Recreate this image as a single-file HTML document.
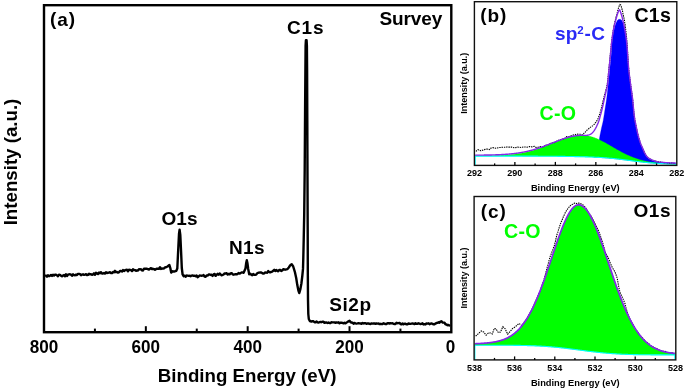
<!DOCTYPE html>
<html><head><meta charset="utf-8"><style>
html,body{margin:0;padding:0;background:#fff;}
svg{display:block;will-change:transform;}
text{font-family:"Liberation Sans",sans-serif;font-weight:bold;fill:#000;}
</style></head><body>
<svg width="685" height="389" viewBox="0 0 685 389">
<rect x="0" y="0" width="685" height="389" fill="#fff"/>
<!-- Panel (a) -->
<path d="M45 276.11 L46 275.64 L47 276.65 L48 275.29 L49 276.22 L50 275.75 L51 274.99 L52 275.89 L53 274.76 L54 275.54 L55 274.65 L56 274.67 L57 275.37 L58 276.22 L59 274.64 L60 274.83 L61 275.69 L62 276.36 L63 275.51 L64 275.08 L65 276.33 L66 274.25 L67 276 L68 274.72 L69 274.37 L70 274.28 L71 274.66 L72 275.75 L73 274.32 L74 275.17 L75 275.26 L76 274.64 L77 275 L78 273.9 L79 273.86 L80 274.15 L81 275.16 L82 274.57 L83 274.29 L84 274.85 L85 274.53 L86 274.16 L87 275.15 L88 274.85 L89 273.75 L90 274.38 L91 274.18 L92 274.85 L93 274.44 L94 273.37 L95 274.8 L96 272.8 L97 273.37 L98 274.02 L99 272.59 L100 273.24 L101 272.15 L102 273.44 L103 273.56 L104 273.04 L105 273.61 L106 272.28 L107 273.02 L108 272.7 L109 272.58 L110 272.21 L111 272.96 L112 273.1 L113 271.97 L114 272.29 L115 270.87 L116 272.19 L117 271.98 L118 272.64 L119 272.17 L120 270.9 L121 271.03 L122 271.56 L123 270.04 L124 270.92 L125 270.18 L126 269.97 L127 269.75 L128 271.22 L129 269.72 L130 269.88 L131 270.11 L132 271.07 L133 269.24 L134 269.95 L135 270.08 L136 270.72 L137 270.49 L138 270.49 L139 269.11 L140 269.38 L141 269.23 L142 270.35 L143 270.48 L144 268.68 L145 268.7 L146 268.79 L147 268.77 L148 269.29 L149 269.49 L150 268.74 L151 268.14 L152 269.02 L153 268.79 L154 269.09 L155 269.82 L156 269.12 L157 268.6 L158 268.7 L159 268.71 L160 267.21 L161 268.95 L162 268.56 L163 268.64 L164 268.34 L165 267.33 L166 267.22 L167.5 266.5 L169.4 265 L170.3 268 L171.2 272.6 L172.5 271.2 L174 271.6 L176.3 270.8 L177.3 268.5 L178.2 250 L179 234 L179.6 229.6 L180.3 235 L181.1 252 L181.8 268 L182.6 274.5 L183.6 276.2 L184.6 275.64 L185.6 276.81 L186.6 275.56 L187.6 275.58 L188.6 275.9 L189.6 275.81 L190.6 276.21 L191.6 275.59 L192.6 275.48 L193.6 275.82 L194.6 275.72 L195.6 276.25 L196.6 275.42 L197.6 277.21 L198.6 276.55 L199.6 275.44 L200.6 275.59 L201.6 275.71 L202.6 275.67 L203.6 275.05 L204.6 276.57 L205.6 276.8 L206.6 275.56 L207.6 275.51 L208.6 274.56 L209.6 274.51 L210.6 274.95 L211.6 274.7 L212.6 275.86 L213.6 274.3 L214.6 273.89 L215.6 275.83 L216.6 274.8 L217.6 273.86 L218.6 274.63 L219.6 273.4 L220.6 274.4 L221.6 275.29 L222.6 274.94 L223.6 274.47 L224.6 273.41 L225.6 273.59 L226.6 273.12 L227.6 274.43 L228.6 273.87 L229.6 274.39 L230.6 273.37 L231.6 273.11 L232.6 274.37 L233.6 274.73 L234.6 274.41 L235.6 274.28 L236.6 274.28 L237.6 274.08 L238.6 272.92 L239.6 273.53 L240.6 273.15 L241.6 272.4 L242.6 272.37 L243.6 272.83 L245.5 268.5 L246.2 263 L246.8 260.2 L247.4 263 L248.2 269 L249.2 274.3 L250.2 273.72 L251.2 274.62 L252.2 275.15 L253.2 273.96 L254.2 274.9 L255.2 274.88 L256.2 274.67 L257.2 273.23 L258.2 272.78 L259.2 272.66 L260.2 272.46 L261.2 272.34 L262.2 273.13 L263.2 273.6 L264.2 273.33 L265.2 272.4 L266.2 272.65 L267.2 272.76 L268.2 270.97 L269.2 272.02 L270.2 272.35 L271.2 271.85 L272.2 271.56 L273.2 270.74 L274.2 269.87 L275.2 271.02 L276.2 269.96 L277.2 270.94 L278.2 271.26 L279.2 269.94 L280.2 269.89 L281.2 271.04 L282.2 270.49 L283.2 269.22 L285.5 269.7 L287.3 269.2 L288.8 267.5 L290.3 265.2 L291.7 264.2 L293.2 266.5 L295 272.4 L296.2 278 L297.3 285.1 L298.4 290.5 L299.3 293 L300.3 289.5 L301.4 283.5 L302.3 276 L303 268.9 L303.3 258 L303.7 240 L304.2 215 L304.7 170 L305.1 110 L305.4 70 L305.6 46 L305.9 40.3 L306.6 40.3 L306.9 46 L307.1 70 L307.3 120 L307.5 180 L307.7 230 L307.8 270 L308 300 L308.3 314 L308.8 319 L309.8 321 L311.5 321.6 L312.5 321.21 L313.5 321.29 L314.5 322.25 L315.5 322.18 L316.5 321.45 L317.5 322.32 L318.5 322.55 L319.5 322.22 L320.5 321.91 L321.5 322.2 L322.5 321.75 L323.5 321.67 L324.5 322.87 L325.5 322.54 L326.5 322.44 L327.5 322.99 L328.5 322.44 L329.5 323.02 L330.5 323 L331.5 322.28 L332.5 322.35 L333.5 322.42 L334.5 322.37 L335.5 322.81 L336.5 322.43 L337.5 322.64 L338.5 322.32 L339.5 323.27 L340.5 322.62 L341.5 322.77 L342.5 322.93 L343.5 323.34 L344.5 322.78 L345.5 323.39 L346.5 322.59 L347.5 321.99 L348.5 321.34 L349.5 320.81 L350.5 322.08 L351.5 322.54 L352.5 322.71 L353.5 323.67 L354.5 322.93 L355.5 323.3 L356.5 323.61 L357.5 323.42 L358.5 323.15 L359.5 323.39 L360.5 323.45 L361.5 323.73 L362.5 322.93 L363.5 323.48 L364.5 323.11 L365.5 323.16 L366.5 323.76 L367.5 323.45 L368.5 323.53 L369.5 323.77 L370.5 323.97 L371.5 323.41 L372.5 323.63 L373.5 323.51 L374.5 323.52 L375.5 323.75 L376.5 323.47 L377.5 323.58 L378.5 323.52 L379.5 324.09 L380.5 323.8 L381.5 324.03 L382.5 324.11 L383.5 323.3 L384.5 323.67 L385.5 324.14 L386.5 324.03 L387.5 323.19 L388.5 323.19 L389.5 323.58 L390.5 323.15 L391.5 323.36 L392.5 323.16 L393.5 323.89 L394.5 324.04 L395.5 324.03 L396.5 322.84 L397.5 323.21 L398.5 323.16 L399.5 322.87 L400.5 324.09 L401.5 324.36 L402.5 323.47 L403.5 324.35 L404.5 323.69 L405.5 323.8 L406.5 324.4 L407.5 324.22 L408.5 323.42 L409.5 323.74 L410.5 323.85 L411.5 323.64 L412.5 323.47 L413.5 323.62 L414.5 324.11 L415.5 323.26 L416.5 323.91 L417.5 323.78 L418.5 323.27 L419.5 323.65 L420.5 324 L421.5 323.87 L422.5 323.34 L423.5 324.45 L424.5 324.21 L425.5 324.44 L426.5 323.4 L427.5 323.59 L428.5 323.33 L429.5 324.22 L430.5 323.61 L431.5 323.44 L432.5 323.8 L433.5 324.39 L434.5 324.28 L435.5 323.61 L436.5 322.98 L437.5 322.9 L438.5 322.19 L439.5 322.76 L440.5 321.68 L441.5 321.22 L442.5 322.48 L443.5 322.66 L444.5 322.75 L445.5 324.33 L446.5 324.49 L447.5 325.23 L448.5 324.9 L450 326.2" fill="none" stroke="#000" stroke-width="2.4" stroke-linejoin="round"/>
<rect x="44.0" y="5.2" width="407.3" height="327" fill="none" stroke="#000" stroke-width="2.4"/>
<g stroke="#000" stroke-width="2"><line x1="400.44" y1="332.2" x2="400.44" y2="328.6"/><line x1="349.52" y1="332.2" x2="349.52" y2="326.2"/><line x1="298.6" y1="332.2" x2="298.6" y2="328.6"/><line x1="247.68" y1="332.2" x2="247.68" y2="326.2"/><line x1="196.76" y1="332.2" x2="196.76" y2="328.6"/><line x1="145.84" y1="332.2" x2="145.84" y2="326.2"/><line x1="94.92" y1="332.2" x2="94.92" y2="328.6"/></g>
<g font-size="18"><text x="450.4" y="352.6" text-anchor="middle" transform="matrix(0.95 0 0 1 22.52 0)">0</text><text x="349.52" y="352.6" text-anchor="middle" transform="matrix(0.95 0 0 1 17.48 0)">200</text><text x="247.68" y="352.6" text-anchor="middle" transform="matrix(0.95 0 0 1 12.38 0)">400</text><text x="145.84" y="352.6" text-anchor="middle" transform="matrix(0.95 0 0 1 7.29 0)">600</text><text x="44" y="352.6" text-anchor="middle" transform="matrix(0.95 0 0 1 2.2 0)">800</text></g>
<text x="247.1" y="382.4" font-size="18.7" text-anchor="middle">Binding Energy (eV)</text>
<text transform="translate(17.4,162.0) rotate(-90)" font-size="18.7" text-anchor="middle">Intensity (a.u.)</text>
<text x="50.0" y="25.7" font-size="19" letter-spacing="0.9"><tspan dy="-0.8">(</tspan><tspan dy="0.8">a</tspan><tspan dy="-0.8">)</tspan></text>
<text x="379.4" y="25.3" font-size="19" letter-spacing="-0.1">Survey</text>
<text x="287.1" y="33.6" font-size="19" letter-spacing="0.8">C1s</text>
<text x="161.6" y="224.9" font-size="19">O1s</text>
<text x="228.9" y="253.6" font-size="19" letter-spacing="0.4">N1s</text>
<text x="329.2" y="310.6" font-size="19" letter-spacing="0.6">Si2p</text>
<!-- Panel (b) -->
<path d="M594 157.15 L594.64 155.99 L595.56 154.36 L596.55 152.33 L597.4 150 L598.04 147.18 L598.59 143.9 L599.1 140.54 L599.6 137.5 L600.1 134.86 L600.58 132.42 L601.05 130.15 L601.5 128 L601.93 126.15 L602.34 124.55 L602.76 122.85 L603.2 120.7 L603.69 117.82 L604.22 114.46 L604.74 111.04 L605.2 108 L605.59 105.61 L605.93 103.58 L606.25 101.51 L606.6 99 L606.99 95.88 L607.39 92.38 L607.8 88.69 L608.2 85 L608.58 81.32 L608.96 77.56 L609.33 73.77 L609.7 70 L610.08 66.25 L610.48 62.5 L610.85 58.75 L611.2 55 L611.49 51.13 L611.74 47.19 L611.99 43.4 L612.3 40 L612.68 37.07 L613.1 34.47 L613.55 32.14 L614 30 L614.46 28.06 L614.94 26.34 L615.42 24.83 L615.9 23.5 L616.38 22.35 L616.86 21.39 L617.33 20.61 L617.8 20 L618.26 19.6 L618.71 19.39 L619.15 19.31 L619.6 19.3 L620.05 19.31 L620.5 19.39 L620.95 19.6 L621.4 20 L621.85 20.61 L622.31 21.39 L622.76 22.35 L623.2 23.5 L623.63 24.83 L624.06 26.34 L624.48 28.06 L624.9 30 L625.35 32.14 L625.81 34.47 L626.24 37.07 L626.6 40 L626.86 43.4 L627.04 47.19 L627.2 51.13 L627.4 55 L627.64 58.75 L627.88 62.5 L628.16 66.25 L628.5 70 L628.92 73.75 L629.39 77.5 L629.9 81.25 L630.4 85 L630.9 88.72 L631.42 92.42 L631.93 96.17 L632.4 100 L632.81 104.06 L633.18 108.27 L633.56 112.4 L634 116.2 L634.54 119.66 L635.14 122.89 L635.75 125.85 L636.3 128.5 L636.76 130.72 L637.16 132.57 L637.55 134.26 L638 136 L638.51 137.86 L639.07 139.73 L639.64 141.53 L640.2 143.2 L640.75 144.69 L641.3 146.04 L641.85 147.32 L642.4 148.6 L642.95 149.91 L643.49 151.21 L644.04 152.45 L644.6 153.6 L645.16 154.64 L645.72 155.61 L646.32 156.49 L647 157.3 L647.78 158.04 L648.63 158.69 L649.54 159.28 L650.5 159.8 L651.5 160.23 L652.54 160.58 L653.64 160.89 L654.8 161.2 L655.97 161.53 L657.17 161.84 L658.48 162.14 L660 162.4 L661.8 162.61 L663.82 162.79 L665.93 162.95 L668 163.1 L670.2 163.25 L672.52 163.39 L674.6 163.51 L676.05 163.6 L675.65 164.05 L675.15 164.04 L674.65 164.03 L674.15 164.03 L673.65 164.02 L673.15 164.01 L672.65 164 L672.15 163.98 L671.65 163.97 L671.15 163.96 L670.65 163.95 L670.15 163.94 L669.65 163.92 L669.15 163.91 L668.65 163.89 L668.15 163.88 L667.65 163.86 L667.15 163.85 L666.65 163.83 L666.15 163.81 L665.65 163.8 L665.15 163.78 L664.65 163.76 L664.15 163.74 L663.65 163.72 L663.15 163.69 L662.65 163.67 L662.15 163.65 L661.65 163.63 L661.15 163.6 L660.65 163.58 L660.15 163.55 L659.65 163.52 L659.15 163.49 L658.65 163.47 L658.15 163.44 L657.65 163.41 L657.15 163.38 L656.65 163.34 L656.15 163.31 L655.65 163.28 L655.15 163.24 L654.65 163.21 L654.15 163.17 L653.65 163.13 L653.15 163.1 L652.65 163.06 L652.15 163.02 L651.65 162.98 L651.15 162.93 L650.65 162.89 L650.15 162.85 L649.65 162.8 L649.15 162.76 L648.65 162.71 L648.15 162.67 L647.65 162.62 L647.15 162.57 L646.65 162.52 L646.15 162.47 L645.65 162.42 L645.15 162.37 L644.65 162.31 L644.15 162.26 L643.65 162.21 L643.15 162.15 L642.65 162.1 L642.15 162.04 L641.65 161.98 L641.15 161.93 L640.65 161.87 L640.15 161.81 L639.65 161.75 L639.15 161.69 L638.65 161.63 L638.15 161.57 L637.65 161.51 L637.15 161.44 L636.65 161.38 L636.15 161.32 L635.65 161.26 L635.15 161.19 L634.65 161.13 L634.15 161.06 L633.65 161 L633.15 160.93 L632.65 160.87 L632.15 160.8 L631.65 160.74 L631.15 160.67 L630.65 160.61 L630.15 160.54 L629.65 160.48 L629.15 160.41 L628.65 160.35 L628.15 160.28 L627.65 160.22 L627.15 160.15 L626.65 160.09 L626.15 160.02 L625.65 159.96 L625.15 159.9 L624.65 159.83 L624.15 159.77 L623.65 159.71 L623.15 159.64 L622.65 159.58 L622.15 159.52 L621.65 159.46 L621.15 159.4 L620.65 159.34 L620.15 159.28 L619.65 159.22 L619.15 159.16 L618.65 159.1 L618.15 159.04 L617.65 158.99 L617.15 158.93 L616.65 158.88 L616.15 158.82 L615.65 158.77 L615.15 158.71 L614.65 158.66 L614.15 158.61 L613.65 158.56 L613.15 158.51 L612.65 158.46 L612.15 158.41 L611.65 158.36 L611.15 158.31 L610.65 158.27 L610.15 158.22 L609.65 158.18 L609.15 158.13 L608.65 158.09 L608.15 158.05 L607.65 158.01 L607.15 157.96 L606.65 157.92 L606.15 157.89 L605.65 157.85 L605.15 157.81 L604.65 157.77 L604.15 157.74 L603.65 157.7 L603.15 157.67 L602.65 157.63 L602.15 157.6 L601.65 157.57 L601.15 157.53 L600.65 157.5 L600.15 157.47 L599.65 157.44 L599.15 157.41 L598.65 157.39 L598.15 157.36 L597.65 157.33 L597.15 157.3 L596.65 157.28 L596.15 157.25 L595.65 157.23 L595.15 157.2 L594.65 157.18 L594.15 157.16 Z" fill="#0000ff" stroke="#0000ff" stroke-width="0.3"/>
<path d="M475.15 155.95 L475.65 155.95 L476.15 155.95 L476.65 155.94 L477.15 155.94 L477.65 155.93 L478.15 155.93 L478.65 155.93 L479.15 155.92 L479.65 155.92 L480.15 155.91 L480.65 155.91 L481.15 155.9 L481.65 155.9 L482.15 155.89 L482.65 155.89 L483.15 155.88 L483.65 155.87 L484.15 155.87 L484.65 155.86 L485.15 155.85 L485.65 155.84 L486.15 155.84 L486.65 155.83 L487.15 155.82 L487.65 155.81 L488.15 155.8 L488.65 155.79 L489.15 155.78 L489.65 155.77 L490.15 155.76 L490.65 155.75 L491.15 155.74 L491.65 155.72 L492.15 155.71 L492.65 155.7 L493.15 155.68 L493.65 155.67 L494.15 155.65 L494.65 155.64 L495.15 155.62 L495.65 155.6 L496.15 155.59 L496.65 155.57 L497.15 155.55 L497.65 155.53 L498.15 155.51 L498.65 155.49 L499.15 155.46 L499.65 155.44 L500.15 155.42 L500.65 155.39 L501.15 155.37 L501.65 155.34 L502.15 155.31 L502.65 155.28 L503.15 155.25 L503.65 155.22 L504.15 155.19 L504.65 155.16 L505.15 155.12 L505.65 155.09 L506.15 155.05 L506.65 155.01 L507.15 154.97 L507.65 154.93 L508.15 154.89 L508.65 154.85 L509.15 154.8 L509.65 154.76 L510.15 154.71 L510.65 154.66 L511.15 154.61 L511.65 154.56 L512.15 154.5 L512.65 154.45 L513.15 154.39 L513.65 154.33 L514.15 154.27 L514.65 154.21 L515.15 154.15 L515.65 154.08 L516.15 154.01 L516.65 153.94 L517.15 153.87 L517.65 153.8 L518.15 153.72 L518.65 153.64 L519.15 153.56 L519.65 153.48 L520.15 153.4 L520.65 153.31 L521.15 153.22 L521.65 153.13 L522.15 153.04 L522.65 152.95 L523.15 152.85 L523.65 152.75 L524.15 152.65 L524.65 152.54 L525.15 152.44 L525.65 152.33 L526.15 152.22 L526.65 152.1 L527.15 151.99 L527.65 151.87 L528.15 151.75 L528.65 151.63 L529.15 151.5 L529.65 151.37 L530.15 151.24 L530.65 151.11 L531.15 150.97 L531.65 150.83 L532.15 150.69 L532.65 150.55 L533.15 150.41 L533.65 150.26 L534.15 150.11 L534.65 149.96 L535.15 149.8 L535.65 149.64 L536.15 149.48 L536.65 149.32 L537.15 149.16 L537.65 148.99 L538.15 148.82 L538.65 148.65 L539.15 148.48 L539.65 148.31 L540.15 148.13 L540.65 147.95 L541.15 147.77 L541.65 147.59 L542.15 147.4 L542.65 147.22 L543.15 147.03 L543.65 146.84 L544.15 146.65 L544.65 146.45 L545.15 146.26 L545.65 146.07 L546.15 145.87 L546.65 145.67 L547.15 145.47 L547.65 145.27 L548.15 145.07 L548.65 144.87 L549.15 144.66 L549.65 144.46 L550.15 144.26 L550.65 144.05 L551.15 143.85 L551.65 143.64 L552.15 143.44 L552.65 143.23 L553.15 143.03 L553.65 142.82 L554.15 142.61 L554.65 142.41 L555.15 142.21 L555.65 142 L556.15 141.8 L556.65 141.6 L557.15 141.4 L557.65 141.2 L558.15 141 L558.65 140.8 L559.15 140.6 L559.65 140.41 L560.15 140.22 L560.65 140.03 L561.15 139.84 L561.65 139.65 L562.15 139.47 L562.65 139.29 L563.15 139.11 L563.65 138.93 L564.15 138.76 L564.65 138.59 L565.15 138.42 L565.65 138.25 L566.15 138.09 L566.65 137.94 L567.15 137.78 L567.65 137.63 L568.15 137.48 L568.65 137.34 L569.15 137.2 L569.65 137.07 L570.15 136.94 L570.65 136.81 L571.15 136.69 L571.65 136.57 L572.15 136.46 L572.65 136.36 L573.15 136.25 L573.65 136.16 L574.15 136.06 L574.65 135.98 L575.15 135.9 L575.65 135.82 L576.15 135.75 L576.65 135.68 L577.15 135.63 L577.65 135.57 L578.15 135.52 L578.65 135.48 L579.15 135.45 L579.65 135.42 L580.15 135.39 L580.65 135.37 L581.15 135.36 L581.65 135.35 L582.15 135.35 L582.65 135.36 L583.15 135.37 L583.65 135.39 L584.15 135.42 L584.65 135.46 L585.15 135.5 L585.65 135.55 L586.15 135.61 L586.65 135.68 L587.15 135.75 L587.65 135.84 L588.15 135.93 L588.65 136.03 L589.15 136.13 L589.65 136.25 L590.15 136.37 L590.65 136.5 L591.15 136.63 L591.65 136.78 L592.15 136.93 L592.65 137.08 L593.15 137.25 L593.65 137.42 L594.15 137.59 L594.65 137.78 L595.15 137.97 L595.65 138.16 L596.15 138.36 L596.65 138.57 L597.15 138.78 L597.65 139 L598.15 139.22 L598.65 139.45 L599.15 139.68 L599.65 139.92 L600.15 140.16 L600.65 140.41 L601.15 140.66 L601.65 140.91 L602.15 141.17 L602.65 141.43 L603.15 141.7 L603.65 141.97 L604.15 142.24 L604.65 142.51 L605.15 142.79 L605.65 143.07 L606.15 143.35 L606.65 143.63 L607.15 143.91 L607.65 144.2 L608.15 144.49 L608.65 144.78 L609.15 145.07 L609.65 145.36 L610.15 145.65 L610.65 145.94 L611.15 146.23 L611.65 146.52 L612.15 146.82 L612.65 147.11 L613.15 147.4 L613.65 147.69 L614.15 147.98 L614.65 148.27 L615.15 148.56 L615.65 148.85 L616.15 149.13 L616.65 149.42 L617.15 149.7 L617.65 149.99 L618.15 150.27 L618.65 150.55 L619.15 150.82 L619.65 151.1 L620.15 151.37 L620.65 151.64 L621.15 151.91 L621.65 152.17 L622.15 152.44 L622.65 152.7 L623.15 152.95 L623.65 153.21 L624.15 153.46 L624.65 153.71 L625.15 153.95 L625.65 154.2 L626.15 154.44 L626.65 154.67 L627.15 154.91 L627.65 155.14 L628.15 155.36 L628.65 155.59 L629.15 155.81 L629.65 156.02 L630.15 156.24 L630.65 156.45 L631.15 156.65 L631.65 156.86 L632.15 157.06 L632.65 157.25 L633.15 157.45 L633.65 157.64 L634.15 157.82 L634.65 158 L635.15 158.18 L635.65 158.36 L636.15 158.53 L636.65 158.7 L637.15 158.86 L637.65 159.02 L638.15 159.18 L638.65 159.34 L639.15 159.49 L639.65 159.63 L640.15 159.78 L640.65 159.92 L641.15 160.06 L641.65 160.19 L642.15 160.32 L642.65 160.45 L643.15 160.58 L643.65 160.7 L644.15 160.82 L644.65 160.93 L645.15 161.05 L645.65 161.16 L646.15 161.26 L646.65 161.37 L647.15 161.47 L647.65 161.57 L648.15 161.66 L648.65 161.76 L649.15 161.85 L649.65 161.93 L650.15 162.02 L650.65 162.1 L651.15 162.18 L651.65 162.26 L652.15 162.34 L652.65 162.41 L653.15 162.48 L653.65 162.55 L654.15 162.62 L654.65 162.68 L655.15 162.74 L655.65 162.8 L656.15 162.86 L656.65 162.92 L657.15 162.97 L657.65 163.02 L658.15 163.07 L658.65 163.12 L659.15 163.17 L659.65 163.21 L660.15 163.26 L660.65 163.3 L661.15 163.34 L661.65 163.38 L662.15 163.42 L662.65 163.45 L663.15 163.49 L663.65 163.52 L664.15 163.55 L664.65 163.58 L665.15 163.61 L665.65 163.64 L666.15 163.67 L666.65 163.69 L667.15 163.72 L667.65 163.74 L668.15 163.76 L668.65 163.79 L669.15 163.81 L669.65 163.83 L670.15 163.85 L670.65 163.87 L671.15 163.88 L671.65 163.9 L672.15 163.92 L672.65 163.93 L673.15 163.94 L673.65 163.96 L674.15 163.97 L674.65 163.98 L675.15 164 L675.65 164.01 L675.65 164.05 L675.15 164.04 L674.65 164.03 L674.15 164.03 L673.65 164.02 L673.15 164.01 L672.65 164 L672.15 163.98 L671.65 163.97 L671.15 163.96 L670.65 163.95 L670.15 163.94 L669.65 163.92 L669.15 163.91 L668.65 163.89 L668.15 163.88 L667.65 163.86 L667.15 163.85 L666.65 163.83 L666.15 163.81 L665.65 163.8 L665.15 163.78 L664.65 163.76 L664.15 163.74 L663.65 163.72 L663.15 163.69 L662.65 163.67 L662.15 163.65 L661.65 163.63 L661.15 163.6 L660.65 163.58 L660.15 163.55 L659.65 163.52 L659.15 163.49 L658.65 163.47 L658.15 163.44 L657.65 163.41 L657.15 163.38 L656.65 163.34 L656.15 163.31 L655.65 163.28 L655.15 163.24 L654.65 163.21 L654.15 163.17 L653.65 163.13 L653.15 163.1 L652.65 163.06 L652.15 163.02 L651.65 162.98 L651.15 162.93 L650.65 162.89 L650.15 162.85 L649.65 162.8 L649.15 162.76 L648.65 162.71 L648.15 162.67 L647.65 162.62 L647.15 162.57 L646.65 162.52 L646.15 162.47 L645.65 162.42 L645.15 162.37 L644.65 162.31 L644.15 162.26 L643.65 162.21 L643.15 162.15 L642.65 162.1 L642.15 162.04 L641.65 161.98 L641.15 161.93 L640.65 161.87 L640.15 161.81 L639.65 161.75 L639.15 161.69 L638.65 161.63 L638.15 161.57 L637.65 161.51 L637.15 161.44 L636.65 161.38 L636.15 161.32 L635.65 161.26 L635.15 161.19 L634.65 161.13 L634.15 161.06 L633.65 161 L633.15 160.93 L632.65 160.87 L632.15 160.8 L631.65 160.74 L631.15 160.67 L630.65 160.61 L630.15 160.54 L629.65 160.48 L629.15 160.41 L628.65 160.35 L628.15 160.28 L627.65 160.22 L627.15 160.15 L626.65 160.09 L626.15 160.02 L625.65 159.96 L625.15 159.9 L624.65 159.83 L624.15 159.77 L623.65 159.71 L623.15 159.64 L622.65 159.58 L622.15 159.52 L621.65 159.46 L621.15 159.4 L620.65 159.34 L620.15 159.28 L619.65 159.22 L619.15 159.16 L618.65 159.1 L618.15 159.04 L617.65 158.99 L617.15 158.93 L616.65 158.88 L616.15 158.82 L615.65 158.77 L615.15 158.71 L614.65 158.66 L614.15 158.61 L613.65 158.56 L613.15 158.51 L612.65 158.46 L612.15 158.41 L611.65 158.36 L611.15 158.31 L610.65 158.27 L610.15 158.22 L609.65 158.18 L609.15 158.13 L608.65 158.09 L608.15 158.05 L607.65 158.01 L607.15 157.96 L606.65 157.92 L606.15 157.89 L605.65 157.85 L605.15 157.81 L604.65 157.77 L604.15 157.74 L603.65 157.7 L603.15 157.67 L602.65 157.63 L602.15 157.6 L601.65 157.57 L601.15 157.53 L600.65 157.5 L600.15 157.47 L599.65 157.44 L599.15 157.41 L598.65 157.39 L598.15 157.36 L597.65 157.33 L597.15 157.3 L596.65 157.28 L596.15 157.25 L595.65 157.23 L595.15 157.2 L594.65 157.18 L594.15 157.16 L593.65 157.14 L593.15 157.11 L592.65 157.09 L592.15 157.07 L591.65 157.05 L591.15 157.03 L590.65 157.01 L590.15 156.99 L589.65 156.98 L589.15 156.96 L588.65 156.94 L588.15 156.92 L587.65 156.91 L587.15 156.89 L586.65 156.87 L586.15 156.86 L585.65 156.84 L585.15 156.83 L584.65 156.81 L584.15 156.8 L583.65 156.79 L583.15 156.77 L582.65 156.76 L582.15 156.75 L581.65 156.73 L581.15 156.72 L580.65 156.71 L580.15 156.7 L579.65 156.68 L579.15 156.67 L578.65 156.66 L578.15 156.65 L577.65 156.64 L577.15 156.63 L576.65 156.62 L576.15 156.61 L575.65 156.6 L575.15 156.59 L574.65 156.58 L574.15 156.57 L573.65 156.56 L573.15 156.55 L572.65 156.54 L572.15 156.53 L571.65 156.52 L571.15 156.52 L570.65 156.51 L570.15 156.5 L569.65 156.49 L569.15 156.48 L568.65 156.47 L568.15 156.47 L567.65 156.46 L567.15 156.45 L566.65 156.44 L566.15 156.44 L565.65 156.43 L565.15 156.42 L564.65 156.42 L564.15 156.41 L563.65 156.4 L563.15 156.4 L562.65 156.39 L562.15 156.38 L561.65 156.38 L561.15 156.37 L560.65 156.36 L560.15 156.36 L559.65 156.35 L559.15 156.35 L558.65 156.34 L558.15 156.33 L557.65 156.33 L557.15 156.32 L556.65 156.32 L556.15 156.31 L555.65 156.31 L555.15 156.3 L554.65 156.3 L554.15 156.29 L553.65 156.29 L553.15 156.28 L552.65 156.28 L552.15 156.27 L551.65 156.27 L551.15 156.26 L550.65 156.26 L550.15 156.26 L549.65 156.25 L549.15 156.25 L548.65 156.24 L548.15 156.24 L547.65 156.24 L547.15 156.23 L546.65 156.23 L546.15 156.22 L545.65 156.22 L545.15 156.22 L544.65 156.21 L544.15 156.21 L543.65 156.21 L543.15 156.2 L542.65 156.2 L542.15 156.2 L541.65 156.2 L541.15 156.19 L540.65 156.19 L540.15 156.19 L539.65 156.18 L539.15 156.18 L538.65 156.18 L538.15 156.18 L537.65 156.17 L537.15 156.17 L536.65 156.17 L536.15 156.17 L535.65 156.16 L535.15 156.16 L534.65 156.16 L534.15 156.16 L533.65 156.16 L533.15 156.15 L532.65 156.15 L532.15 156.15 L531.65 156.15 L531.15 156.15 L530.65 156.15 L530.15 156.14 L529.65 156.14 L529.15 156.14 L528.65 156.14 L528.15 156.14 L527.65 156.14 L527.15 156.14 L526.65 156.13 L526.15 156.13 L525.65 156.13 L525.15 156.13 L524.65 156.13 L524.15 156.13 L523.65 156.13 L523.15 156.13 L522.65 156.13 L522.15 156.12 L521.65 156.12 L521.15 156.12 L520.65 156.12 L520.15 156.12 L519.65 156.12 L519.15 156.12 L518.65 156.12 L518.15 156.12 L517.65 156.12 L517.15 156.12 L516.65 156.12 L516.15 156.11 L515.65 156.11 L515.15 156.11 L514.65 156.11 L514.15 156.11 L513.65 156.11 L513.15 156.11 L512.65 156.11 L512.15 156.11 L511.65 156.11 L511.15 156.11 L510.65 156.11 L510.15 156.11 L509.65 156.11 L509.15 156.11 L508.65 156.11 L508.15 156.11 L507.65 156.11 L507.15 156.11 L506.65 156.11 L506.15 156.11 L505.65 156.11 L505.15 156.11 L504.65 156.11 L504.15 156.1 L503.65 156.1 L503.15 156.1 L502.65 156.1 L502.15 156.1 L501.65 156.1 L501.15 156.1 L500.65 156.1 L500.15 156.1 L499.65 156.1 L499.15 156.1 L498.65 156.1 L498.15 156.1 L497.65 156.1 L497.15 156.1 L496.65 156.1 L496.15 156.1 L495.65 156.1 L495.15 156.1 L494.65 156.1 L494.15 156.1 L493.65 156.1 L493.15 156.1 L492.65 156.1 L492.15 156.1 L491.65 156.1 L491.15 156.1 L490.65 156.1 L490.15 156.1 L489.65 156.1 L489.15 156.1 L488.65 156.1 L488.15 156.1 L487.65 156.1 L487.15 156.1 L486.65 156.1 L486.15 156.1 L485.65 156.1 L485.15 156.1 L484.65 156.1 L484.15 156.1 L483.65 156.1 L483.15 156.1 L482.65 156.1 L482.15 156.1 L481.65 156.1 L481.15 156.1 L480.65 156.1 L480.15 156.1 L479.65 156.1 L479.15 156.1 L478.65 156.1 L478.15 156.1 L477.65 156.1 L477.15 156.1 L476.65 156.1 L476.15 156.1 L475.65 156.1 L475.15 156.1 Z" fill="#00ff00" stroke="#00ff00" stroke-width="0.3"/>
<path d="M475.15 165.4 L475.15 156.1 L475.65 156.1 L476.15 156.1 L476.65 156.1 L477.15 156.1 L477.65 156.1 L478.15 156.1 L478.65 156.1 L479.15 156.1 L479.65 156.1 L480.15 156.1 L480.65 156.1 L481.15 156.1 L481.65 156.1 L482.15 156.1 L482.65 156.1 L483.15 156.1 L483.65 156.1 L484.15 156.1 L484.65 156.1 L485.15 156.1 L485.65 156.1 L486.15 156.1 L486.65 156.1 L487.15 156.1 L487.65 156.1 L488.15 156.1 L488.65 156.1 L489.15 156.1 L489.65 156.1 L490.15 156.1 L490.65 156.1 L491.15 156.1 L491.65 156.1 L492.15 156.1 L492.65 156.1 L493.15 156.1 L493.65 156.1 L494.15 156.1 L494.65 156.1 L495.15 156.1 L495.65 156.1 L496.15 156.1 L496.65 156.1 L497.15 156.1 L497.65 156.1 L498.15 156.1 L498.65 156.1 L499.15 156.1 L499.65 156.1 L500.15 156.1 L500.65 156.1 L501.15 156.1 L501.65 156.1 L502.15 156.1 L502.65 156.1 L503.15 156.1 L503.65 156.1 L504.15 156.1 L504.65 156.11 L505.15 156.11 L505.65 156.11 L506.15 156.11 L506.65 156.11 L507.15 156.11 L507.65 156.11 L508.15 156.11 L508.65 156.11 L509.15 156.11 L509.65 156.11 L510.15 156.11 L510.65 156.11 L511.15 156.11 L511.65 156.11 L512.15 156.11 L512.65 156.11 L513.15 156.11 L513.65 156.11 L514.15 156.11 L514.65 156.11 L515.15 156.11 L515.65 156.11 L516.15 156.11 L516.65 156.12 L517.15 156.12 L517.65 156.12 L518.15 156.12 L518.65 156.12 L519.15 156.12 L519.65 156.12 L520.15 156.12 L520.65 156.12 L521.15 156.12 L521.65 156.12 L522.15 156.12 L522.65 156.13 L523.15 156.13 L523.65 156.13 L524.15 156.13 L524.65 156.13 L525.15 156.13 L525.65 156.13 L526.15 156.13 L526.65 156.13 L527.15 156.14 L527.65 156.14 L528.15 156.14 L528.65 156.14 L529.15 156.14 L529.65 156.14 L530.15 156.14 L530.65 156.15 L531.15 156.15 L531.65 156.15 L532.15 156.15 L532.65 156.15 L533.15 156.15 L533.65 156.16 L534.15 156.16 L534.65 156.16 L535.15 156.16 L535.65 156.16 L536.15 156.17 L536.65 156.17 L537.15 156.17 L537.65 156.17 L538.15 156.18 L538.65 156.18 L539.15 156.18 L539.65 156.18 L540.15 156.19 L540.65 156.19 L541.15 156.19 L541.65 156.2 L542.15 156.2 L542.65 156.2 L543.15 156.2 L543.65 156.21 L544.15 156.21 L544.65 156.21 L545.15 156.22 L545.65 156.22 L546.15 156.22 L546.65 156.23 L547.15 156.23 L547.65 156.24 L548.15 156.24 L548.65 156.24 L549.15 156.25 L549.65 156.25 L550.15 156.26 L550.65 156.26 L551.15 156.26 L551.65 156.27 L552.15 156.27 L552.65 156.28 L553.15 156.28 L553.65 156.29 L554.15 156.29 L554.65 156.3 L555.15 156.3 L555.65 156.31 L556.15 156.31 L556.65 156.32 L557.15 156.32 L557.65 156.33 L558.15 156.33 L558.65 156.34 L559.15 156.35 L559.65 156.35 L560.15 156.36 L560.65 156.36 L561.15 156.37 L561.65 156.38 L562.15 156.38 L562.65 156.39 L563.15 156.4 L563.65 156.4 L564.15 156.41 L564.65 156.42 L565.15 156.42 L565.65 156.43 L566.15 156.44 L566.65 156.44 L567.15 156.45 L567.65 156.46 L568.15 156.47 L568.65 156.47 L569.15 156.48 L569.65 156.49 L570.15 156.5 L570.65 156.51 L571.15 156.52 L571.65 156.52 L572.15 156.53 L572.65 156.54 L573.15 156.55 L573.65 156.56 L574.15 156.57 L574.65 156.58 L575.15 156.59 L575.65 156.6 L576.15 156.61 L576.65 156.62 L577.15 156.63 L577.65 156.64 L578.15 156.65 L578.65 156.66 L579.15 156.67 L579.65 156.68 L580.15 156.7 L580.65 156.71 L581.15 156.72 L581.65 156.73 L582.15 156.75 L582.65 156.76 L583.15 156.77 L583.65 156.79 L584.15 156.8 L584.65 156.81 L585.15 156.83 L585.65 156.84 L586.15 156.86 L586.65 156.87 L587.15 156.89 L587.65 156.91 L588.15 156.92 L588.65 156.94 L589.15 156.96 L589.65 156.98 L590.15 156.99 L590.65 157.01 L591.15 157.03 L591.65 157.05 L592.15 157.07 L592.65 157.09 L593.15 157.11 L593.65 157.14 L594.15 157.16 L594.65 157.18 L595.15 157.2 L595.65 157.23 L596.15 157.25 L596.65 157.28 L597.15 157.3 L597.65 157.33 L598.15 157.36 L598.65 157.39 L599.15 157.41 L599.65 157.44 L600.15 157.47 L600.65 157.5 L601.15 157.53 L601.65 157.57 L602.15 157.6 L602.65 157.63 L603.15 157.67 L603.65 157.7 L604.15 157.74 L604.65 157.77 L605.15 157.81 L605.65 157.85 L606.15 157.89 L606.65 157.92 L607.15 157.96 L607.65 158.01 L608.15 158.05 L608.65 158.09 L609.15 158.13 L609.65 158.18 L610.15 158.22 L610.65 158.27 L611.15 158.31 L611.65 158.36 L612.15 158.41 L612.65 158.46 L613.15 158.51 L613.65 158.56 L614.15 158.61 L614.65 158.66 L615.15 158.71 L615.65 158.77 L616.15 158.82 L616.65 158.88 L617.15 158.93 L617.65 158.99 L618.15 159.04 L618.65 159.1 L619.15 159.16 L619.65 159.22 L620.15 159.28 L620.65 159.34 L621.15 159.4 L621.65 159.46 L622.15 159.52 L622.65 159.58 L623.15 159.64 L623.65 159.71 L624.15 159.77 L624.65 159.83 L625.15 159.9 L625.65 159.96 L626.15 160.02 L626.65 160.09 L627.15 160.15 L627.65 160.22 L628.15 160.28 L628.65 160.35 L629.15 160.41 L629.65 160.48 L630.15 160.54 L630.65 160.61 L631.15 160.67 L631.65 160.74 L632.15 160.8 L632.65 160.87 L633.15 160.93 L633.65 161 L634.15 161.06 L634.65 161.13 L635.15 161.19 L635.65 161.26 L636.15 161.32 L636.65 161.38 L637.15 161.44 L637.65 161.51 L638.15 161.57 L638.65 161.63 L639.15 161.69 L639.65 161.75 L640.15 161.81 L640.65 161.87 L641.15 161.93 L641.65 161.98 L642.15 162.04 L642.65 162.1 L643.15 162.15 L643.65 162.21 L644.15 162.26 L644.65 162.31 L645.15 162.37 L645.65 162.42 L646.15 162.47 L646.65 162.52 L647.15 162.57 L647.65 162.62 L648.15 162.67 L648.65 162.71 L649.15 162.76 L649.65 162.8 L650.15 162.85 L650.65 162.89 L651.15 162.93 L651.65 162.98 L652.15 163.02 L652.65 163.06 L653.15 163.1 L653.65 163.13 L654.15 163.17 L654.65 163.21 L655.15 163.24 L655.65 163.28 L656.15 163.31 L656.65 163.34 L657.15 163.38 L657.65 163.41 L658.15 163.44 L658.65 163.47 L659.15 163.49 L659.65 163.52 L660.15 163.55 L660.65 163.58 L661.15 163.6 L661.65 163.63 L662.15 163.65 L662.65 163.67 L663.15 163.69 L663.65 163.72 L664.15 163.74 L664.65 163.76 L665.15 163.78 L665.65 163.8 L666.15 163.81 L666.65 163.83 L667.15 163.85 L667.65 163.86 L668.15 163.88 L668.65 163.89 L669.15 163.91 L669.65 163.92 L670.15 163.94 L670.65 163.95 L671.15 163.96 L671.65 163.97 L672.15 163.98 L672.65 164 L673.15 164.01 L673.65 164.02 L674.15 164.03 L674.65 164.03 L675.15 164.04 L675.65 164.05 L675.65 165.4" fill="none" stroke="#00ffff" stroke-width="1.1"/>
<path d="M475.9 151.34 L477.93 149.68 L480.86 150.77 L483.99 149.66 L486.6 149.11 L488.32 149.19 L489.58 149.56 L490.91 148.1 L492.8 147.63 L495.65 148.2 L499.09 147.59 L502.54 147.29 L505.4 147.29 L507.27 146.96 L508.56 147.08 L509.84 147.15 L511.7 147.05 L514.45 147.86 L517.71 147.06 L521.1 147.49 L524.2 146.92 L526.95 147.18 L529.56 146.51 L532.01 146.84 L534.3 146.33 L536.36 147.58 L538.21 147.25 L539.99 146.51 L541.8 146.75 L543.6 147.08 L545.35 144.93 L547.2 145.43 L549.3 143.88 L551.8 143.03 L554.59 142.55 L557.4 140.65 L560 139.81 L562.33 139.14 L564.51 138.68 L566.57 136.63 L568.5 136.8 L570.24 136.09 L571.8 135.65 L573.34 135.02 L575 134.73 L576.9 134.13 L578.94 134.33 L580.93 134.17 L582.7 134.93 L584.2 133.02 L585.53 131.84 L586.72 130.3 L587.8 129.47 L588.73 128.71 L589.52 128.07 L590.24 127.42 L591 126.87 L591.79 126.34 L592.56 125.9 L593.36 125.12 L594.2 124.37 L595.14 123.08 L596.14 121.99 L597.12 120.4 L598 118.52 L598.75 116.6 L599.43 115.05 L600.03 112.78 L600.6 110.93 L601.11 108.97 L601.56 107.41 L601.98 105.73 L602.4 104 L602.83 102.1 L603.25 100.5 L603.67 98.5 L604.1 96.88 L604.55 95.04 L605.01 93.45 L605.47 91.52 L605.9 89.76 L606.3 88.32 L606.67 86.8 L607.03 85.28 L607.4 83.01 L607.77 80.14 L608.15 76.58 L608.52 72.84 L608.9 69.19 L609.27 65.25 L609.65 61.44 L610.02 57.98 L610.4 53.82 L610.77 50.39 L611.13 46.63 L611.5 42.71 L611.9 39.67 L612.33 36.44 L612.77 33.19 L613.24 30.31 L613.7 27.66 L614.17 24.91 L614.66 22.93 L615.14 20.92 L615.6 19.17 L616.04 17.31 L616.48 15.6 L616.89 13.86 L617.3 12.5 L617.69 10.95 L618.06 9.59 L618.43 8.13 L618.8 6.97 L619.18 6.05 L619.56 5.3 L619.93 4.57 L620.3 4.77 L620.65 4.97 L620.99 5.76 L621.34 6.82 L621.7 8.09 L622.1 9.51 L622.51 11.09 L622.92 13.38 L623.3 15.12 L623.63 16.55 L623.94 18.02 L624.22 19.53 L624.5 20.78 L624.76 22.68 L624.99 24 L625.23 25.66 L625.5 27.88 L625.81 30.69 L626.15 33.35 L626.49 36.79 L626.8 40.24 L627.07 43.54 L627.32 47.25 L627.56 51.17 L627.8 55.09 L628.03 58.88 L628.24 62.56 L628.49 66.32 L628.8 69.79 L629.21 73.57 L629.69 77.38 L630.2 81.37 L630.7 84.9 L631.2 88.76 L631.72 92.18 L632.23 95.95 L632.7 99.88 L633.11 104.14 L633.48 108.36 L633.86 112.48 L634.3 116.1 L634.84 119.67 L635.44 122.88 L636.05 125.84 L636.6 128.31 L637.06 130.92 L637.46 132.42 L637.85 134.5 L638.3 136.22 L638.81 137.62 L639.36 139.71 L639.93 141.69 L640.5 143.43 L641.07 144.66 L641.65 145.93 L642.23 147.18 L642.8 148.82 L643.35 149.75 L643.89 151.21 L644.44 152.21 L645 153.51 L645.56 154.72 L646.11 155.22 L646.71 156.39 L647.4 157 L648.21 157.91 L649.1 158.48 L650.04 158.83 L651 159.7 L651.95 159.95 L652.91 160.1 L653.92 160.43 L655 161 L656.11 161.29 L657.25 161.5 L658.52 161.68 L660 162.02 L661.81 162.22 L663.86 162.67 L665.98 162.41 L668 162.93 L670.05 163.08 L672.15 162.8 L674 163.27 L675.3 163.21" fill="none" stroke="#000" stroke-width="1.1" stroke-dasharray="1.4 0.9"/>
<path d="M475.15 155.16 L475.65 155.15 L476.15 155.15 L476.65 155.15 L477.15 155.14 L477.65 155.14 L478.15 155.14 L478.65 155.13 L479.15 155.13 L479.65 155.12 L480.15 155.12 L480.65 155.11 L481.15 155.11 L481.65 155.1 L482.15 155.1 L482.65 155.09 L483.15 155.09 L483.65 155.08 L484.15 155.07 L484.65 155.07 L485.15 155.06 L485.65 155.05 L486.15 155.05 L486.65 155.04 L487.15 155.03 L487.65 155.02 L488.15 155.01 L488.65 155 L489.15 154.99 L489.65 154.98 L490.15 154.97 L490.65 154.96 L491.15 154.95 L491.65 154.94 L492.15 154.92 L492.65 154.91 L493.15 154.9 L493.65 154.88 L494.15 154.87 L494.65 154.85 L495.15 154.84 L495.65 154.82 L496.15 154.8 L496.65 154.79 L497.15 154.77 L497.65 154.75 L498.15 154.73 L498.65 154.71 L499.15 154.69 L499.65 154.66 L500.15 154.64 L500.65 154.62 L501.15 154.59 L501.65 154.57 L502.15 154.54 L502.65 154.51 L503.15 154.48 L503.65 154.45 L504.15 154.42 L504.65 154.39 L505.15 154.36 L505.65 154.32 L506.15 154.29 L506.65 154.25 L507.15 154.22 L507.65 154.18 L508.15 154.14 L508.65 154.09 L509.15 154.05 L509.65 154.01 L510.15 153.96 L510.65 153.91 L511.15 153.87 L511.65 153.82 L512.15 153.76 L512.65 153.71 L513.15 153.66 L513.65 153.6 L514.15 153.54 L514.65 153.48 L515.15 153.42 L515.65 153.36 L516.15 153.29 L516.65 153.22 L517.15 153.15 L517.65 153.08 L518.15 153.01 L518.65 152.94 L519.15 152.86 L519.65 152.78 L520.15 152.7 L520.65 152.62 L521.15 152.53 L521.65 152.45 L522.15 152.36 L522.65 152.26 L523.15 152.17 L523.65 152.08 L524.15 151.98 L524.65 151.88 L525.15 151.78 L525.65 151.67 L526.15 151.56 L526.65 151.45 L527.15 151.34 L527.65 151.23 L528.15 151.11 L528.65 150.99 L529.15 150.87 L529.65 150.75 L530.15 150.62 L530.65 150.5 L531.15 150.37 L531.65 150.23 L532.15 150.1 L532.65 149.96 L533.15 149.82 L533.65 149.68 L534.15 149.53 L534.65 149.39 L535.15 149.24 L535.65 149.09 L536.15 148.93 L536.65 148.78 L537.15 148.62 L537.65 148.46 L538.15 148.3 L538.65 148.14 L539.15 147.97 L539.65 147.8 L540.15 147.63 L540.65 147.46 L541.15 147.28 L541.65 147.11 L542.15 146.93 L542.65 146.75 L543.15 146.57 L543.65 146.39 L544.15 146.21 L544.65 146.02 L545.15 145.83 L545.65 145.64 L546.15 145.46 L546.65 145.26 L547.15 145.07 L547.65 144.88 L548.15 144.69 L548.65 144.49 L549.15 144.3 L549.65 144.1 L550.15 143.91 L550.65 143.71 L551.15 143.51 L551.65 143.31 L552.15 143.12 L552.65 142.92 L553.15 142.72 L553.65 142.52 L554.15 142.33 L554.65 142.13 L555.15 141.93 L555.65 141.74 L556.15 141.54 L556.65 141.35 L557.15 141.15 L557.65 140.96 L558.15 140.77 L558.65 140.58 L559.15 140.39 L559.65 140.21 L560.15 140.02 L560.65 139.84 L561.15 139.66 L561.65 139.48 L562.15 139.3 L562.65 139.13 L563.15 138.95 L563.65 138.78 L564.15 138.62 L564.65 138.45 L565.15 138.29 L565.65 138.13 L566.15 137.98 L566.65 137.83 L567.15 137.68 L567.65 137.53 L568.15 137.39 L568.65 137.26 L569.15 137.12 L569.65 136.99 L570.15 136.87 L570.65 136.75 L571.15 136.63 L571.65 136.52 L572.15 136.41 L572.65 136.31 L573.15 136.21 L573.65 136.12 L574.15 136.03 L574.65 135.95 L575.15 135.87 L575.65 135.8 L576.15 135.73 L576.65 135.67 L577.15 135.61 L577.65 135.56 L578.15 135.51 L578.65 135.47 L579.15 135.44 L579.65 135.41 L580.15 135.39 L580.65 135.37 L581.15 135.36 L581.65 135.35 L582.15 135.35 L582.65 135.36 L583.15 135.37 L583.65 135.39 L584.15 135.42 L584.65 135.45 L587 135.3 L587.45 135.21 L588.1 135.09 L588.82 134.93 L589.5 134.7 L590.12 134.4 L590.74 134.04 L591.34 133.64 L591.9 133.2 L592.41 132.73 L592.89 132.22 L593.35 131.67 L593.8 131.1 L594.24 130.51 L594.66 129.9 L595.07 129.24 L595.5 128.5 L595.95 127.66 L596.41 126.74 L596.86 125.78 L597.3 124.8 L597.71 123.86 L598.09 122.94 L598.48 121.92 L598.9 120.7 L599.36 119.19 L599.85 117.48 L600.34 115.69 L600.8 114 L601.22 112.48 L601.61 111.02 L602 109.54 L602.4 107.9 L602.82 106.05 L603.24 104.07 L603.67 102.02 L604.1 100 L604.55 97.98 L605.01 95.94 L605.47 93.93 L605.9 92 L606.3 90.37 L606.67 88.94 L607.03 87.29 L607.4 85 L607.77 81.81 L608.15 78 L608.52 73.94 L608.9 70 L609.27 66.25 L609.65 62.5 L610.02 58.75 L610.4 55 L610.77 51.18 L611.12 47.31 L611.5 43.54 L611.9 40 L612.34 36.71 L612.81 33.59 L613.3 30.68 L613.8 28 L614.31 25.59 L614.84 23.42 L615.38 21.42 L615.9 19.5 L616.42 17.61 L616.94 15.81 L617.44 14.17 L617.9 12.8 L618.31 11.65 L618.69 10.69 L619.04 10.04 L619.4 9.8 L619.75 10.04 L620.07 10.69 L620.42 11.65 L620.8 12.8 L621.24 14.17 L621.73 15.81 L622.22 17.61 L622.7 19.5 L623.15 21.42 L623.6 23.42 L624.05 25.59 L624.5 28 L624.98 30.68 L625.48 33.59 L625.96 36.71 L626.4 40 L626.77 43.54 L627.1 47.31 L627.4 51.18 L627.7 55 L627.97 58.75 L628.21 62.5 L628.47 66.25 L628.8 70 L629.22 73.75 L629.69 77.5 L630.2 81.25 L630.7 85 L631.2 88.72 L631.72 92.42 L632.23 96.17 L632.7 100 L633.11 104.06 L633.48 108.27 L633.86 112.4 L634.3 116.2 L634.84 119.66 L635.44 122.89 L636.05 125.85 L636.6 128.5 L637.06 130.72 L637.46 132.57 L637.85 134.26 L638.3 136 L638.81 137.86 L639.36 139.73 L639.93 141.53 L640.5 143.2 L641.07 144.69 L641.65 146.04 L642.23 147.33 L642.8 148.6 L643.35 149.89 L643.89 151.17 L644.44 152.39 L645 153.5 L645.56 154.5 L646.11 155.4 L646.71 156.23 L647.4 157 L648.21 157.72 L649.1 158.38 L650.04 158.97 L651 159.5 L651.95 159.95 L652.91 160.34 L653.92 160.68 L655 161 L656.11 161.31 L657.25 161.6 L658.52 161.86 L660 162.1 L661.79 162.31 L663.81 162.5 L665.93 162.66 L668 162.8 L670.2 162.91 L672.52 162.99 L674.6 163.06 L676.05 163.1" fill="none" stroke="#8428e8" stroke-width="1.4"/>
<rect x="474.4" y="1.7" width="202.4" height="163.7" fill="none" stroke="#111" stroke-width="1.4"/>
<g stroke="#000" stroke-width="1.3"><line x1="656.56" y1="165.4" x2="656.56" y2="163.4"/><line x1="636.32" y1="165.4" x2="636.32" y2="161.9"/><line x1="616.08" y1="165.4" x2="616.08" y2="163.4"/><line x1="595.84" y1="165.4" x2="595.84" y2="161.9"/><line x1="575.6" y1="165.4" x2="575.6" y2="163.4"/><line x1="555.36" y1="165.4" x2="555.36" y2="161.9"/><line x1="535.12" y1="165.4" x2="535.12" y2="163.4"/><line x1="514.88" y1="165.4" x2="514.88" y2="161.9"/><line x1="494.64" y1="165.4" x2="494.64" y2="163.4"/></g>
<g font-size="9"><text x="676.8" y="175.7" text-anchor="middle">282</text><text x="636.32" y="175.7" text-anchor="middle">284</text><text x="595.84" y="175.7" text-anchor="middle">286</text><text x="555.36" y="175.7" text-anchor="middle">288</text><text x="514.88" y="175.7" text-anchor="middle">290</text><text x="474.4" y="175.7" text-anchor="middle">292</text></g>
<text x="575.3" y="190.8" font-size="9.3" text-anchor="middle">Binding Energy (eV)</text>
<text transform="translate(466.6,83.3) rotate(-90)" font-size="9" text-anchor="middle">Intensity (a.u.)</text>
<text x="480.2" y="21.9" font-size="19" letter-spacing="0.9"><tspan dy="-0.6">(</tspan><tspan dy="0.6">b</tspan><tspan dy="-0.6">)</tspan></text>
<text x="634.5" y="21.7" font-size="19.6" letter-spacing="0.2">C1s</text>
<text x="555.1" y="40.3" font-size="19" style="fill:#2a2af5">sp<tspan font-size="11.5" dy="-6.8">2</tspan><tspan dy="6.8" dx="0.8">-</tspan><tspan dx="0.4">C</tspan></text>
<text x="539.6" y="120.4" font-size="19.6" letter-spacing="0.2" style="fill:#00ff00">C-O</text>
<!-- Panel (c) -->
<path d="M474.85 343.76 L475.35 343.74 L475.85 343.72 L476.35 343.7 L476.85 343.67 L477.35 343.65 L477.85 343.63 L478.35 343.6 L478.85 343.58 L479.35 343.55 L479.85 343.52 L480.35 343.49 L480.85 343.46 L481.35 343.43 L481.85 343.4 L482.35 343.37 L482.85 343.33 L483.35 343.3 L483.85 343.26 L484.35 343.22 L484.85 343.18 L485.35 343.14 L485.85 343.09 L486.35 343.05 L486.85 343 L487.35 342.95 L487.85 342.9 L488.35 342.85 L488.85 342.79 L489.35 342.73 L489.85 342.67 L490.35 342.61 L490.85 342.54 L491.35 342.47 L491.85 342.4 L492.35 342.32 L492.85 342.25 L493.35 342.17 L493.85 342.08 L494.35 341.99 L494.85 341.9 L495.35 341.81 L495.85 341.71 L496.35 341.6 L496.85 341.49 L497.35 341.38 L497.85 341.26 L498.35 341.14 L498.85 341.02 L499.35 340.88 L499.85 340.75 L500.35 340.6 L500.85 340.46 L501.35 340.3 L501.85 340.14 L502.35 339.97 L502.85 339.8 L503.35 339.62 L503.85 339.43 L504.35 339.24 L504.85 339.03 L505.35 338.82 L505.85 338.61 L506.35 338.38 L506.85 338.15 L507.35 337.9 L507.85 337.65 L508.35 337.39 L508.85 337.12 L509.35 336.84 L509.85 336.55 L510.35 336.25 L510.85 335.94 L511.35 335.62 L511.85 335.28 L512.35 334.94 L512.85 334.58 L513.35 334.21 L513.85 333.83 L514.35 333.44 L514.85 333.03 L515.35 332.62 L515.85 332.18 L516.35 331.74 L516.85 331.28 L517.35 330.81 L517.85 330.32 L518.35 329.81 L518.85 329.3 L519.35 328.76 L519.85 328.21 L520.35 327.65 L520.85 327.07 L521.35 326.47 L521.85 325.86 L522.35 325.23 L522.85 324.58 L523.35 323.91 L523.85 323.23 L524.35 322.53 L524.85 321.81 L525.35 321.08 L525.85 320.33 L526.35 319.55 L526.85 318.76 L527.35 317.95 L527.85 317.12 L528.35 316.28 L528.85 315.41 L529.35 314.53 L529.85 313.62 L530.35 312.7 L530.85 311.76 L531.35 310.79 L531.85 309.81 L532.35 308.81 L532.85 307.79 L533.35 306.75 L533.85 305.7 L534.35 304.62 L534.85 303.52 L535.35 302.41 L535.85 301.28 L536.35 300.12 L536.85 298.96 L537.35 297.77 L537.85 296.56 L538.35 295.34 L538.85 294.1 L539.35 292.84 L539.85 291.57 L540.35 290.28 L540.85 288.98 L541.35 287.66 L541.85 286.32 L542.35 284.97 L542.85 283.61 L543.35 282.24 L543.85 280.85 L544.35 279.45 L544.85 278.03 L545.35 276.61 L545.85 275.18 L546.35 273.73 L546.85 272.28 L547.35 270.82 L547.85 269.35 L548.35 267.88 L548.85 266.39 L549.35 264.91 L549.85 263.42 L550.35 261.92 L550.85 260.43 L551.35 258.93 L551.85 257.43 L552.35 255.93 L552.85 254.44 L553.35 252.94 L553.85 251.45 L554.35 249.96 L554.85 248.48 L555.35 247 L555.85 245.53 L556.35 244.07 L556.85 242.62 L557.35 241.18 L557.85 239.75 L558.35 238.34 L558.85 236.94 L559.35 235.55 L559.85 234.18 L560.35 232.83 L560.85 231.49 L561.35 230.18 L561.85 228.89 L562.35 227.61 L562.85 226.37 L563.35 225.14 L563.85 223.94 L564.35 222.77 L564.85 221.63 L565.35 220.51 L565.85 219.43 L566.35 218.37 L566.85 217.35 L567.35 216.36 L567.85 215.41 L568.35 214.49 L568.85 213.61 L569.35 212.76 L569.85 211.95 L570.35 211.18 L570.85 210.46 L571.35 209.77 L571.85 209.12 L572.35 208.52 L572.85 207.96 L573.35 207.44 L573.85 206.97 L574.35 206.55 L574.85 206.16 L575.35 205.83 L575.85 205.54 L576.35 205.3 L576.85 205.11 L577.35 204.96 L577.85 204.86 L578.35 204.81 L578.85 204.81 L579.35 204.86 L579.85 204.95 L580.35 205.08 L580.85 205.25 L581.35 205.46 L581.85 205.72 L582.35 206.01 L582.85 206.34 L583.35 206.72 L583.85 207.13 L584.35 207.58 L584.85 208.07 L585.35 208.6 L585.85 209.17 L586.35 209.77 L586.85 210.42 L587.35 211.09 L587.85 211.81 L588.35 212.56 L588.85 213.35 L589.35 214.16 L589.85 215.02 L590.35 215.9 L590.85 216.82 L591.35 217.77 L591.85 218.75 L592.35 219.76 L592.85 220.8 L593.35 221.87 L593.85 222.96 L594.35 224.08 L594.85 225.23 L595.35 226.4 L595.85 227.6 L596.35 228.82 L596.85 230.06 L597.35 231.33 L597.85 232.61 L598.35 233.91 L598.85 235.24 L599.35 236.58 L599.85 237.93 L600.35 239.3 L600.85 240.69 L601.35 242.09 L601.85 243.51 L602.35 244.93 L602.85 246.37 L603.35 247.82 L603.85 249.27 L604.35 250.74 L604.85 252.21 L605.35 253.69 L605.85 255.17 L606.35 256.66 L606.85 258.16 L607.35 259.65 L607.85 261.15 L608.35 262.65 L608.85 264.15 L609.35 265.65 L609.85 267.15 L610.35 268.64 L610.85 270.14 L611.35 271.63 L611.85 273.11 L612.35 274.59 L612.85 276.07 L613.35 277.54 L613.85 279 L614.35 280.45 L614.85 281.9 L615.35 283.34 L615.85 284.76 L616.35 286.18 L616.85 287.59 L617.35 288.98 L617.85 290.36 L618.35 291.74 L618.85 293.09 L619.35 294.44 L619.85 295.77 L620.35 297.09 L620.85 298.39 L621.35 299.68 L621.85 300.95 L622.35 302.21 L622.85 303.45 L623.35 304.68 L623.85 305.89 L624.35 307.08 L624.85 308.26 L625.35 309.42 L625.85 310.56 L626.35 311.68 L626.85 312.79 L627.35 313.88 L627.85 314.95 L628.35 316 L628.85 317.04 L629.35 318.06 L629.85 319.06 L630.35 320.04 L630.85 321 L631.35 321.94 L631.85 322.87 L632.35 323.78 L632.85 324.67 L633.35 325.54 L633.85 326.39 L634.35 327.23 L634.85 328.05 L635.35 328.85 L635.85 329.63 L636.35 330.4 L636.85 331.14 L637.35 331.88 L637.85 332.59 L638.35 333.29 L638.85 333.97 L639.35 334.63 L639.85 335.28 L640.35 335.91 L640.85 336.52 L641.35 337.12 L641.85 337.7 L642.35 338.27 L642.85 338.82 L643.35 339.36 L643.85 339.89 L644.35 340.39 L644.85 340.89 L645.35 341.37 L645.85 341.84 L646.35 342.29 L646.85 342.73 L647.35 343.16 L647.85 343.57 L648.35 343.97 L648.85 344.36 L649.35 344.74 L649.85 345.11 L650.35 345.46 L650.85 345.81 L651.35 346.14 L651.85 346.46 L652.35 346.77 L652.85 347.07 L653.35 347.37 L653.85 347.65 L654.35 347.92 L654.85 348.18 L655.35 348.44 L655.85 348.68 L656.35 348.92 L656.85 349.15 L657.35 349.37 L657.85 349.58 L658.35 349.78 L658.85 349.98 L659.35 350.17 L659.85 350.35 L660.35 350.53 L660.85 350.7 L661.35 350.86 L661.85 351.02 L662.35 351.17 L662.85 351.32 L663.35 351.46 L663.85 351.59 L664.35 351.72 L664.85 351.85 L665.35 351.96 L665.85 352.08 L666.35 352.19 L666.85 352.29 L667.35 352.4 L667.85 352.49 L668.35 352.59 L668.85 352.68 L669.35 352.76 L669.85 352.84 L670.35 352.92 L670.85 353 L671.35 353.07 L671.85 353.14 L672.35 353.2 L672.85 353.27 L673.35 353.33 L673.85 353.39 L674.35 353.44 L674.85 353.49 L674.85 354.89 L674.35 354.89 L673.85 354.89 L673.35 354.89 L672.85 354.89 L672.35 354.89 L671.85 354.89 L671.35 354.89 L670.85 354.89 L670.35 354.89 L669.85 354.89 L669.35 354.89 L668.85 354.89 L668.35 354.89 L667.85 354.89 L667.35 354.89 L666.85 354.89 L666.35 354.88 L665.85 354.88 L665.35 354.88 L664.85 354.88 L664.35 354.88 L663.85 354.88 L663.35 354.88 L662.85 354.88 L662.35 354.88 L661.85 354.88 L661.35 354.87 L660.85 354.87 L660.35 354.87 L659.85 354.87 L659.35 354.87 L658.85 354.87 L658.35 354.86 L657.85 354.86 L657.35 354.86 L656.85 354.86 L656.35 354.86 L655.85 354.85 L655.35 354.85 L654.85 354.85 L654.35 354.85 L653.85 354.84 L653.35 354.84 L652.85 354.84 L652.35 354.84 L651.85 354.83 L651.35 354.83 L650.85 354.83 L650.35 354.82 L649.85 354.82 L649.35 354.81 L648.85 354.81 L648.35 354.81 L647.85 354.8 L647.35 354.8 L646.85 354.79 L646.35 354.79 L645.85 354.78 L645.35 354.78 L644.85 354.77 L644.35 354.77 L643.85 354.76 L643.35 354.75 L642.85 354.75 L642.35 354.74 L641.85 354.74 L641.35 354.73 L640.85 354.72 L640.35 354.71 L639.85 354.71 L639.35 354.7 L638.85 354.69 L638.35 354.68 L637.85 354.67 L637.35 354.66 L636.85 354.65 L636.35 354.64 L635.85 354.63 L635.35 354.62 L634.85 354.61 L634.35 354.6 L633.85 354.59 L633.35 354.58 L632.85 354.56 L632.35 354.55 L631.85 354.54 L631.35 354.52 L630.85 354.51 L630.35 354.49 L629.85 354.48 L629.35 354.46 L628.85 354.45 L628.35 354.43 L627.85 354.42 L627.35 354.4 L626.85 354.38 L626.35 354.36 L625.85 354.34 L625.35 354.33 L624.85 354.31 L624.35 354.29 L623.85 354.26 L623.35 354.24 L622.85 354.22 L622.35 354.2 L621.85 354.18 L621.35 354.15 L620.85 354.13 L620.35 354.1 L619.85 354.08 L619.35 354.05 L618.85 354.03 L618.35 354 L617.85 353.97 L617.35 353.94 L616.85 353.92 L616.35 353.89 L615.85 353.86 L615.35 353.82 L614.85 353.79 L614.35 353.76 L613.85 353.73 L613.35 353.7 L612.85 353.66 L612.35 353.63 L611.85 353.59 L611.35 353.56 L610.85 353.52 L610.35 353.48 L609.85 353.44 L609.35 353.4 L608.85 353.37 L608.35 353.32 L607.85 353.28 L607.35 353.24 L606.85 353.2 L606.35 353.16 L605.85 353.11 L605.35 353.07 L604.85 353.03 L604.35 352.98 L603.85 352.93 L603.35 352.89 L602.85 352.84 L602.35 352.79 L601.85 352.74 L601.35 352.69 L600.85 352.64 L600.35 352.59 L599.85 352.54 L599.35 352.49 L598.85 352.44 L598.35 352.39 L597.85 352.33 L597.35 352.28 L596.85 352.22 L596.35 352.17 L595.85 352.11 L595.35 352.06 L594.85 352 L594.35 351.94 L593.85 351.88 L593.35 351.83 L592.85 351.77 L592.35 351.71 L591.85 351.65 L591.35 351.59 L590.85 351.53 L590.35 351.47 L589.85 351.4 L589.35 351.34 L588.85 351.28 L588.35 351.22 L587.85 351.16 L587.35 351.09 L586.85 351.03 L586.35 350.97 L585.85 350.9 L585.35 350.84 L584.85 350.77 L584.35 350.71 L583.85 350.64 L583.35 350.58 L582.85 350.51 L582.35 350.45 L581.85 350.38 L581.35 350.32 L580.85 350.25 L580.35 350.19 L579.85 350.12 L579.35 350.06 L578.85 349.99 L578.35 349.93 L577.85 349.86 L577.35 349.79 L576.85 349.73 L576.35 349.66 L575.85 349.6 L575.35 349.53 L574.85 349.47 L574.35 349.4 L573.85 349.34 L573.35 349.27 L572.85 349.21 L572.35 349.15 L571.85 349.08 L571.35 349.02 L570.85 348.96 L570.35 348.89 L569.85 348.83 L569.35 348.77 L568.85 348.71 L568.35 348.65 L567.85 348.58 L567.35 348.52 L566.85 348.46 L566.35 348.4 L565.85 348.34 L565.35 348.29 L564.85 348.23 L564.35 348.17 L563.85 348.11 L563.35 348.06 L562.85 348 L562.35 347.94 L561.85 347.89 L561.35 347.83 L560.85 347.78 L560.35 347.73 L559.85 347.67 L559.35 347.62 L558.85 347.57 L558.35 347.52 L557.85 347.47 L557.35 347.42 L556.85 347.37 L556.35 347.32 L555.85 347.27 L555.35 347.22 L554.85 347.17 L554.35 347.13 L553.85 347.08 L553.35 347.04 L552.85 346.99 L552.35 346.95 L551.85 346.91 L551.35 346.87 L550.85 346.82 L550.35 346.78 L549.85 346.74 L549.35 346.7 L548.85 346.66 L548.35 346.63 L547.85 346.59 L547.35 346.55 L546.85 346.52 L546.35 346.48 L545.85 346.45 L545.35 346.41 L544.85 346.38 L544.35 346.35 L543.85 346.31 L543.35 346.28 L542.85 346.25 L542.35 346.22 L541.85 346.19 L541.35 346.16 L540.85 346.13 L540.35 346.11 L539.85 346.08 L539.35 346.05 L538.85 346.03 L538.35 346 L537.85 345.98 L537.35 345.95 L536.85 345.93 L536.35 345.91 L535.85 345.88 L535.35 345.86 L534.85 345.84 L534.35 345.82 L533.85 345.8 L533.35 345.78 L532.85 345.76 L532.35 345.74 L531.85 345.72 L531.35 345.7 L530.85 345.69 L530.35 345.67 L529.85 345.65 L529.35 345.64 L528.85 345.62 L528.35 345.61 L527.85 345.59 L527.35 345.58 L526.85 345.57 L526.35 345.55 L525.85 345.54 L525.35 345.53 L524.85 345.51 L524.35 345.5 L523.85 345.49 L523.35 345.48 L522.85 345.47 L522.35 345.46 L521.85 345.45 L521.35 345.44 L520.85 345.43 L520.35 345.42 L519.85 345.41 L519.35 345.4 L518.85 345.4 L518.35 345.39 L517.85 345.38 L517.35 345.37 L516.85 345.37 L516.35 345.36 L515.85 345.35 L515.35 345.35 L514.85 345.34 L514.35 345.33 L513.85 345.33 L513.35 345.32 L512.85 345.32 L512.35 345.31 L511.85 345.31 L511.35 345.3 L510.85 345.3 L510.35 345.29 L509.85 345.29 L509.35 345.29 L508.85 345.28 L508.35 345.28 L507.85 345.27 L507.35 345.27 L506.85 345.27 L506.35 345.27 L505.85 345.26 L505.35 345.26 L504.85 345.26 L504.35 345.25 L503.85 345.25 L503.35 345.25 L502.85 345.25 L502.35 345.24 L501.85 345.24 L501.35 345.24 L500.85 345.24 L500.35 345.24 L499.85 345.23 L499.35 345.23 L498.85 345.23 L498.35 345.23 L497.85 345.23 L497.35 345.23 L496.85 345.23 L496.35 345.22 L495.85 345.22 L495.35 345.22 L494.85 345.22 L494.35 345.22 L493.85 345.22 L493.35 345.22 L492.85 345.22 L492.35 345.22 L491.85 345.21 L491.35 345.21 L490.85 345.21 L490.35 345.21 L489.85 345.21 L489.35 345.21 L488.85 345.21 L488.35 345.21 L487.85 345.21 L487.35 345.21 L486.85 345.21 L486.35 345.21 L485.85 345.21 L485.35 345.21 L484.85 345.21 L484.35 345.21 L483.85 345.21 L483.35 345.21 L482.85 345.21 L482.35 345.2 L481.85 345.2 L481.35 345.2 L480.85 345.2 L480.35 345.2 L479.85 345.2 L479.35 345.2 L478.85 345.2 L478.35 345.2 L477.85 345.2 L477.35 345.2 L476.85 345.2 L476.35 345.2 L475.85 345.2 L475.35 345.2 L474.85 345.2 Z" fill="#00ff00" stroke="#00ff00" stroke-width="0.3"/>
<path d="M474.85 359.9 L474.85 345.2 L475.35 345.2 L475.85 345.2 L476.35 345.2 L476.85 345.2 L477.35 345.2 L477.85 345.2 L478.35 345.2 L478.85 345.2 L479.35 345.2 L479.85 345.2 L480.35 345.2 L480.85 345.2 L481.35 345.2 L481.85 345.2 L482.35 345.2 L482.85 345.21 L483.35 345.21 L483.85 345.21 L484.35 345.21 L484.85 345.21 L485.35 345.21 L485.85 345.21 L486.35 345.21 L486.85 345.21 L487.35 345.21 L487.85 345.21 L488.35 345.21 L488.85 345.21 L489.35 345.21 L489.85 345.21 L490.35 345.21 L490.85 345.21 L491.35 345.21 L491.85 345.21 L492.35 345.22 L492.85 345.22 L493.35 345.22 L493.85 345.22 L494.35 345.22 L494.85 345.22 L495.35 345.22 L495.85 345.22 L496.35 345.22 L496.85 345.23 L497.35 345.23 L497.85 345.23 L498.35 345.23 L498.85 345.23 L499.35 345.23 L499.85 345.23 L500.35 345.24 L500.85 345.24 L501.35 345.24 L501.85 345.24 L502.35 345.24 L502.85 345.25 L503.35 345.25 L503.85 345.25 L504.35 345.25 L504.85 345.26 L505.35 345.26 L505.85 345.26 L506.35 345.27 L506.85 345.27 L507.35 345.27 L507.85 345.27 L508.35 345.28 L508.85 345.28 L509.35 345.29 L509.85 345.29 L510.35 345.29 L510.85 345.3 L511.35 345.3 L511.85 345.31 L512.35 345.31 L512.85 345.32 L513.35 345.32 L513.85 345.33 L514.35 345.33 L514.85 345.34 L515.35 345.35 L515.85 345.35 L516.35 345.36 L516.85 345.37 L517.35 345.37 L517.85 345.38 L518.35 345.39 L518.85 345.4 L519.35 345.4 L519.85 345.41 L520.35 345.42 L520.85 345.43 L521.35 345.44 L521.85 345.45 L522.35 345.46 L522.85 345.47 L523.35 345.48 L523.85 345.49 L524.35 345.5 L524.85 345.51 L525.35 345.53 L525.85 345.54 L526.35 345.55 L526.85 345.57 L527.35 345.58 L527.85 345.59 L528.35 345.61 L528.85 345.62 L529.35 345.64 L529.85 345.65 L530.35 345.67 L530.85 345.69 L531.35 345.7 L531.85 345.72 L532.35 345.74 L532.85 345.76 L533.35 345.78 L533.85 345.8 L534.35 345.82 L534.85 345.84 L535.35 345.86 L535.85 345.88 L536.35 345.91 L536.85 345.93 L537.35 345.95 L537.85 345.98 L538.35 346 L538.85 346.03 L539.35 346.05 L539.85 346.08 L540.35 346.11 L540.85 346.13 L541.35 346.16 L541.85 346.19 L542.35 346.22 L542.85 346.25 L543.35 346.28 L543.85 346.31 L544.35 346.35 L544.85 346.38 L545.35 346.41 L545.85 346.45 L546.35 346.48 L546.85 346.52 L547.35 346.55 L547.85 346.59 L548.35 346.63 L548.85 346.66 L549.35 346.7 L549.85 346.74 L550.35 346.78 L550.85 346.82 L551.35 346.87 L551.85 346.91 L552.35 346.95 L552.85 346.99 L553.35 347.04 L553.85 347.08 L554.35 347.13 L554.85 347.17 L555.35 347.22 L555.85 347.27 L556.35 347.32 L556.85 347.37 L557.35 347.42 L557.85 347.47 L558.35 347.52 L558.85 347.57 L559.35 347.62 L559.85 347.67 L560.35 347.73 L560.85 347.78 L561.35 347.83 L561.85 347.89 L562.35 347.94 L562.85 348 L563.35 348.06 L563.85 348.11 L564.35 348.17 L564.85 348.23 L565.35 348.29 L565.85 348.34 L566.35 348.4 L566.85 348.46 L567.35 348.52 L567.85 348.58 L568.35 348.65 L568.85 348.71 L569.35 348.77 L569.85 348.83 L570.35 348.89 L570.85 348.96 L571.35 349.02 L571.85 349.08 L572.35 349.15 L572.85 349.21 L573.35 349.27 L573.85 349.34 L574.35 349.4 L574.85 349.47 L575.35 349.53 L575.85 349.6 L576.35 349.66 L576.85 349.73 L577.35 349.79 L577.85 349.86 L578.35 349.93 L578.85 349.99 L579.35 350.06 L579.85 350.12 L580.35 350.19 L580.85 350.25 L581.35 350.32 L581.85 350.38 L582.35 350.45 L582.85 350.51 L583.35 350.58 L583.85 350.64 L584.35 350.71 L584.85 350.77 L585.35 350.84 L585.85 350.9 L586.35 350.97 L586.85 351.03 L587.35 351.09 L587.85 351.16 L588.35 351.22 L588.85 351.28 L589.35 351.34 L589.85 351.4 L590.35 351.47 L590.85 351.53 L591.35 351.59 L591.85 351.65 L592.35 351.71 L592.85 351.77 L593.35 351.83 L593.85 351.88 L594.35 351.94 L594.85 352 L595.35 352.06 L595.85 352.11 L596.35 352.17 L596.85 352.22 L597.35 352.28 L597.85 352.33 L598.35 352.39 L598.85 352.44 L599.35 352.49 L599.85 352.54 L600.35 352.59 L600.85 352.64 L601.35 352.69 L601.85 352.74 L602.35 352.79 L602.85 352.84 L603.35 352.89 L603.85 352.93 L604.35 352.98 L604.85 353.03 L605.35 353.07 L605.85 353.11 L606.35 353.16 L606.85 353.2 L607.35 353.24 L607.85 353.28 L608.35 353.32 L608.85 353.37 L609.35 353.4 L609.85 353.44 L610.35 353.48 L610.85 353.52 L611.35 353.56 L611.85 353.59 L612.35 353.63 L612.85 353.66 L613.35 353.7 L613.85 353.73 L614.35 353.76 L614.85 353.79 L615.35 353.82 L615.85 353.86 L616.35 353.89 L616.85 353.92 L617.35 353.94 L617.85 353.97 L618.35 354 L618.85 354.03 L619.35 354.05 L619.85 354.08 L620.35 354.1 L620.85 354.13 L621.35 354.15 L621.85 354.18 L622.35 354.2 L622.85 354.22 L623.35 354.24 L623.85 354.26 L624.35 354.29 L624.85 354.31 L625.35 354.33 L625.85 354.34 L626.35 354.36 L626.85 354.38 L627.35 354.4 L627.85 354.42 L628.35 354.43 L628.85 354.45 L629.35 354.46 L629.85 354.48 L630.35 354.49 L630.85 354.51 L631.35 354.52 L631.85 354.54 L632.35 354.55 L632.85 354.56 L633.35 354.58 L633.85 354.59 L634.35 354.6 L634.85 354.61 L635.35 354.62 L635.85 354.63 L636.35 354.64 L636.85 354.65 L637.35 354.66 L637.85 354.67 L638.35 354.68 L638.85 354.69 L639.35 354.7 L639.85 354.71 L640.35 354.71 L640.85 354.72 L641.35 354.73 L641.85 354.74 L642.35 354.74 L642.85 354.75 L643.35 354.75 L643.85 354.76 L644.35 354.77 L644.85 354.77 L645.35 354.78 L645.85 354.78 L646.35 354.79 L646.85 354.79 L647.35 354.8 L647.85 354.8 L648.35 354.81 L648.85 354.81 L649.35 354.81 L649.85 354.82 L650.35 354.82 L650.85 354.83 L651.35 354.83 L651.85 354.83 L652.35 354.84 L652.85 354.84 L653.35 354.84 L653.85 354.84 L654.35 354.85 L654.85 354.85 L655.35 354.85 L655.85 354.85 L656.35 354.86 L656.85 354.86 L657.35 354.86 L657.85 354.86 L658.35 354.86 L658.85 354.87 L659.35 354.87 L659.85 354.87 L660.35 354.87 L660.85 354.87 L661.35 354.87 L661.85 354.88 L662.35 354.88 L662.85 354.88 L663.35 354.88 L663.85 354.88 L664.35 354.88 L664.85 354.88 L665.35 354.88 L665.85 354.88 L666.35 354.88 L666.85 354.89 L667.35 354.89 L667.85 354.89 L668.35 354.89 L668.85 354.89 L669.35 354.89 L669.85 354.89 L670.35 354.89 L670.85 354.89 L671.35 354.89 L671.85 354.89 L672.35 354.89 L672.85 354.89 L673.35 354.89 L673.85 354.89 L674.35 354.89 L674.85 354.89 L674.85 359.9" fill="none" stroke="#00ffff" stroke-width="1.1"/>
<path d="M475.65 336.1 L481.2 331 L483.9 332.1 L486.1 335.2 L488.4 333 L490.6 333 L492.4 333.9 L494.2 328.5 L496 328.9 L498.3 332.5 L500.5 332.1 L502.8 326.7 L505 328.5 L507.7 334.3 L510 331.6 L512.7 328.5 L515.4 326.7 L519 323.5 L522 325.65 L522.88 324.03 L524.12 322.4 L525.56 320.37 L527 318.57 L528.43 315.86 L529.94 313.02 L531.48 310.18 L533 307.03 L534.52 303.6 L536.06 300.14 L537.57 297.08 L539 293.18 L540.32 290.34 L541.55 286.69 L542.76 283.33 L544 279.64 L545.36 274.52 L546.78 269.05 L548.11 264.1 L549.2 259.87 L549.92 257.36 L550.38 255.9 L550.78 255.14 L551.3 253.81 L552.03 251.63 L552.86 249.69 L553.68 247.09 L554.4 245.46 L554.95 243.24 L555.4 241.45 L555.85 239.31 L556.4 236.85 L557.1 234.22 L557.88 232.2 L558.7 229 L559.5 226.78 L560.25 224.48 L560.99 222.38 L561.75 220.69 L562.6 218.83 L563.53 216.22 L564.53 214.35 L565.58 212.03 L566.7 210.34 L567.94 208.52 L569.27 206.79 L570.6 205.43 L571.8 204.4 L572.82 204.19 L573.72 203.52 L574.59 203.13 L575.5 203.48 L576.47 203.47 L577.45 203.13 L578.46 203.06 L579.5 203.38 L580.55 203.63 L581.62 204.19 L582.76 204.65 L584 205.82 L585.41 207.47 L586.94 209.77 L588.5 212.31 L590 214.57 L591.41 216.66 L592.77 219.06 L594.12 221.71 L595.5 224.41 L596.95 227.53 L598.43 230.74 L599.88 234.42 L601.2 238.43 L602.39 241.55 L603.48 245.7 L604.48 249.43 L605.4 252.55 L606.16 254.01 L606.79 255.21 L607.43 256.22 L608.2 257.83 L609.17 260.07 L610.26 262.99 L611.4 265.57 L612.5 268.06 L613.59 269.56 L614.69 271.46 L615.75 273.96 L616.7 276.58 L617.45 279.48 L618.06 283.24 L618.69 286.6 L619.5 290.32 L620.62 293.78 L621.94 296.63 L623.24 299.36 L624.3 301.93 L624.98 303.55 L625.42 305.27 L625.83 307.07 L626.4 309.32 L627.16 311.74 L628.02 314.41 L628.97 316.78 L630 319.16 L631.15 321.57 L632.41 323.65 L633.72 325.94 L635 327.67 L636.25 330.14 L637.5 331.6 L638.75 333.82 L640 335.27 L641.25 336.57 L642.5 337.88 L643.75 339.3 L645 340.83 L646.25 342.04 L647.5 342.71 L648.75 343.68 L650 344.93 L651.25 345.84 L652.5 346.49 L653.75 347.09 L655 348.03 L656.25 348.23 L657.5 348.99 L658.75 349.61 L660 350.43 L661.25 350.64 L662.5 351.19 L663.75 351.25 L665 351.4 L666.27 351.7 L667.55 352.45 L668.8 352.5 L670 352.43 L671.21 352.42 L672.44 352.91 L673.5 353.16 L674.25 353.07" fill="none" stroke="#000" stroke-width="1.1" stroke-dasharray="1.4 0.9"/>
<path d="M474.85 343.76 L475.35 343.74 L475.85 343.72 L476.35 343.7 L476.85 343.67 L477.35 343.65 L477.85 343.63 L478.35 343.6 L478.85 343.58 L479.35 343.55 L479.85 343.52 L480.35 343.49 L480.85 343.46 L481.35 343.43 L481.85 343.4 L482.35 343.37 L482.85 343.33 L483.35 343.3 L483.85 343.26 L484.35 343.22 L484.85 343.18 L485.35 343.14 L485.85 343.09 L486.35 343.05 L486.85 343 L487.35 342.95 L487.85 342.9 L488.35 342.85 L488.85 342.79 L489.35 342.73 L489.85 342.67 L490.35 342.61 L490.85 342.54 L491.35 342.47 L491.85 342.4 L492.35 342.32 L492.85 342.25 L493.35 342.17 L493.85 342.08 L494.35 341.99 L494.85 341.9 L495.35 341.81 L495.85 341.71 L496.35 341.6 L496.85 341.49 L497.35 341.38 L497.85 341.26 L498.35 341.14 L498.85 341.02 L499.35 340.88 L499.85 340.75 L500.35 340.6 L500.85 340.46 L501.35 340.3 L501.85 340.14 L502.35 339.97 L502.85 339.8 L503.35 339.62 L503.85 339.43 L504.35 339.24 L504.85 339.03 L505.35 338.82 L505.85 338.61 L506.35 338.38 L506.85 338.15 L507.35 337.9 L507.85 337.65 L508.35 337.39 L508.85 337.12 L509.35 336.84 L509.85 336.55 L510.35 336.25 L510.85 335.94 L511.35 335.62 L511.85 335.28 L512.35 334.94 L512.85 334.58 L513.35 334.21 L513.85 333.83 L514.35 333.44 L514.85 333.03 L515.35 332.62 L515.85 332.18 L516.35 331.74 L516.85 331.28 L517.35 330.81 L517.85 330.32 L518.35 329.81 L518.85 329.3 L519.35 328.76 L519.85 328.21 L520.35 327.65 L520.85 327.07 L521.35 326.47 L521.85 325.86 L522.35 325.23 L522.85 324.58 L523.35 323.91 L523.85 323.23 L524.35 322.53 L524.85 321.81 L525.35 321.08 L525.85 320.33 L526.35 319.55 L526.85 318.76 L527.35 317.95 L527.85 317.12 L528.35 316.28 L528.85 315.41 L529.35 314.53 L529.85 313.62 L530.35 312.7 L530.85 311.76 L531.35 310.79 L531.85 309.81 L532.35 308.81 L532.85 307.79 L533.35 306.75 L533.85 305.7 L534.35 304.62 L534.85 303.52 L535.35 302.41 L535.85 301.28 L536.35 300.12 L536.85 298.96 L537.35 297.77 L537.85 296.56 L538.35 295.34 L538.85 294.1 L539.35 292.84 L539.85 291.57 L540.35 290.28 L540.85 288.98 L541.35 287.66 L541.85 286.32 L542.35 284.97 L542.85 283.61 L543.35 282.24 L543.85 280.85 L544.35 279.45 L544.85 278.03 L545.35 276.61 L545.85 275.18 L546.35 273.73 L546.85 272.28 L547.35 270.82 L547.85 269.35 L548.35 267.88 L548.85 266.39 L549.35 264.91 L549.85 263.42 L550.35 261.92 L550.85 260.43 L551.35 258.93 L551.85 257.43 L552.35 255.93 L552.85 254.44 L553.35 252.94 L553.85 251.45 L554.35 249.96 L554.85 248.48 L555.35 247 L555.85 245.53 L556.35 244.07 L556.85 242.62 L557.35 241.18 L557.85 239.75 L558.35 238.34 L558.85 236.94 L559.35 235.55 L559.85 234.18 L560.35 232.83 L560.85 231.49 L561.35 230.18 L561.85 228.89 L562.35 227.61 L562.85 226.37 L563.35 225.14 L563.85 223.94 L564.35 222.77 L564.85 221.63 L565.35 220.51 L565.85 219.43 L566.35 218.37 L566.85 217.35 L567.35 216.36 L567.85 215.41 L568.35 214.49 L568.85 213.61 L569.35 212.76 L569.85 211.95 L570.35 211.18 L570.85 210.46 L571.35 209.77 L571.85 209.12 L572.35 208.52 L572.85 207.96 L573.35 207.44 L573.85 206.97 L574.35 206.55 L574.85 206.16 L575.35 205.83 L575.85 205.54 L576.35 205.3 L576.85 205.11 L577.35 204.96 L577.85 204.86 L578.35 204.81 L578.85 204.81 L579.35 204.86 L579.85 204.95 L580.35 205.08 L580.85 205.25 L581.35 205.46 L581.85 205.72 L582.35 206.01 L582.85 206.34 L583.35 206.72 L583.85 207.13 L584.35 207.58 L584.85 208.07 L585.35 208.6 L585.85 209.17 L586.35 209.77 L586.85 210.42 L587.35 211.09 L587.85 211.81 L588.35 212.56 L588.85 213.35 L589.35 214.16 L589.85 215.02 L590.35 215.9 L590.85 216.82 L591.35 217.77 L591.85 218.75 L592.35 219.76 L592.85 220.8 L593.35 221.87 L593.85 222.96 L594.35 224.08 L594.85 225.23 L595.35 226.4 L595.85 227.6 L596.35 228.82 L596.85 230.06 L597.35 231.33 L597.85 232.61 L598.35 233.91 L598.85 235.24 L599.35 236.58 L599.85 237.93 L600.35 239.3 L600.85 240.69 L601.35 242.09 L601.85 243.51 L602.35 244.93 L602.85 246.37 L603.35 247.82 L603.85 249.27 L604.35 250.74 L604.85 252.21 L605.35 253.69 L605.85 255.17 L606.35 256.66 L606.85 258.16 L607.35 259.65 L607.85 261.15 L608.35 262.65 L608.85 264.15 L609.35 265.65 L609.85 267.15 L610.35 268.64 L610.85 270.14 L611.35 271.63 L611.85 273.11 L612.35 274.59 L612.85 276.07 L613.35 277.54 L613.85 279 L614.35 280.45 L614.85 281.9 L615.35 283.34 L615.85 284.76 L616.35 286.18 L616.85 287.59 L617.35 288.98 L617.85 290.36 L618.35 291.74 L618.85 293.09 L619.35 294.44 L619.85 295.77 L620.35 297.09 L620.85 298.39 L621.35 299.68 L621.85 300.95 L622.35 302.21 L622.85 303.45 L623.35 304.68 L623.85 305.89 L624.35 307.08 L624.85 308.26 L625.35 309.42 L625.85 310.56 L626.35 311.68 L626.85 312.79 L627.35 313.88 L627.85 314.95 L628.35 316 L628.85 317.04 L629.35 318.06 L629.85 319.06 L630.35 320.04 L630.85 321 L631.35 321.94 L631.85 322.87 L632.35 323.78 L632.85 324.67 L633.35 325.54 L633.85 326.39 L634.35 327.23 L634.85 328.05 L635.35 328.85 L635.85 329.63 L636.35 330.4 L636.85 331.14 L637.35 331.88 L637.85 332.59 L638.35 333.29 L638.85 333.97 L639.35 334.63 L639.85 335.28 L640.35 335.91 L640.85 336.52 L641.35 337.12 L641.85 337.7 L642.35 338.27 L642.85 338.82 L643.35 339.36 L643.85 339.89 L644.35 340.39 L644.85 340.89 L645.35 341.37 L645.85 341.84 L646.35 342.29 L646.85 342.73 L647.35 343.16 L647.85 343.57 L648.35 343.97 L648.85 344.36 L649.35 344.74 L649.85 345.11 L650.35 345.46 L650.85 345.81 L651.35 346.14 L651.85 346.46 L652.35 346.77 L652.85 347.07 L653.35 347.37 L653.85 347.65 L654.35 347.92 L654.85 348.18 L655.35 348.44 L655.85 348.68 L656.35 348.92 L656.85 349.15 L657.35 349.37 L657.85 349.58 L658.35 349.78 L658.85 349.98 L659.35 350.17 L659.85 350.35 L660.35 350.53 L660.85 350.7 L661.35 350.86 L661.85 351.02 L662.35 351.17 L662.85 351.32 L663.35 351.46 L663.85 351.59 L664.35 351.72 L664.85 351.85 L665.35 351.96 L665.85 352.08 L666.35 352.19 L666.85 352.29 L667.35 352.4 L667.85 352.49 L668.35 352.59 L668.85 352.68 L669.35 352.76 L669.85 352.84 L670.35 352.92 L670.85 353 L671.35 353.07 L671.85 353.14 L672.35 353.2 L672.85 353.27 L673.35 353.33 L673.85 353.39 L674.35 353.44 L674.85 353.49" fill="none" stroke="#8428e8" stroke-width="1.7"/>
<rect x="474.1" y="196.5" width="201.7" height="163.4" fill="none" stroke="#111" stroke-width="1.4"/>
<g stroke="#000" stroke-width="1.3"><line x1="655.3" y1="359.9" x2="655.3" y2="357.9"/><line x1="635.2" y1="359.9" x2="635.2" y2="356.4"/><line x1="615.1" y1="359.9" x2="615.1" y2="357.9"/><line x1="595" y1="359.9" x2="595" y2="356.4"/><line x1="574.9" y1="359.9" x2="574.9" y2="357.9"/><line x1="554.8" y1="359.9" x2="554.8" y2="356.4"/><line x1="534.7" y1="359.9" x2="534.7" y2="357.9"/><line x1="514.6" y1="359.9" x2="514.6" y2="356.4"/><line x1="494.5" y1="359.9" x2="494.5" y2="357.9"/></g>
<g font-size="9"><text x="675.4" y="370.5" text-anchor="middle">528</text><text x="635.2" y="370.5" text-anchor="middle">530</text><text x="595" y="370.5" text-anchor="middle">532</text><text x="554.8" y="370.5" text-anchor="middle">534</text><text x="514.6" y="370.5" text-anchor="middle">536</text><text x="474.4" y="370.5" text-anchor="middle">538</text></g>
<text x="575.3" y="385.6" font-size="9.3" text-anchor="middle">Binding Energy (eV)</text>
<text transform="translate(466.6,278.1) rotate(-90)" font-size="9" text-anchor="middle">Intensity (a.u.)</text>
<text x="480.7" y="217.6" font-size="19" letter-spacing="0.9"><tspan dy="-0.9">(</tspan><tspan dy="0.9">c</tspan><tspan dy="-0.9">)</tspan></text>
<text x="633.6" y="217.3" font-size="19" letter-spacing="0.5">O1s</text>
<text x="504.1" y="237.6" font-size="19.6" letter-spacing="0.2" style="fill:#00ff00">C-O</text>
</svg>
</body></html>
